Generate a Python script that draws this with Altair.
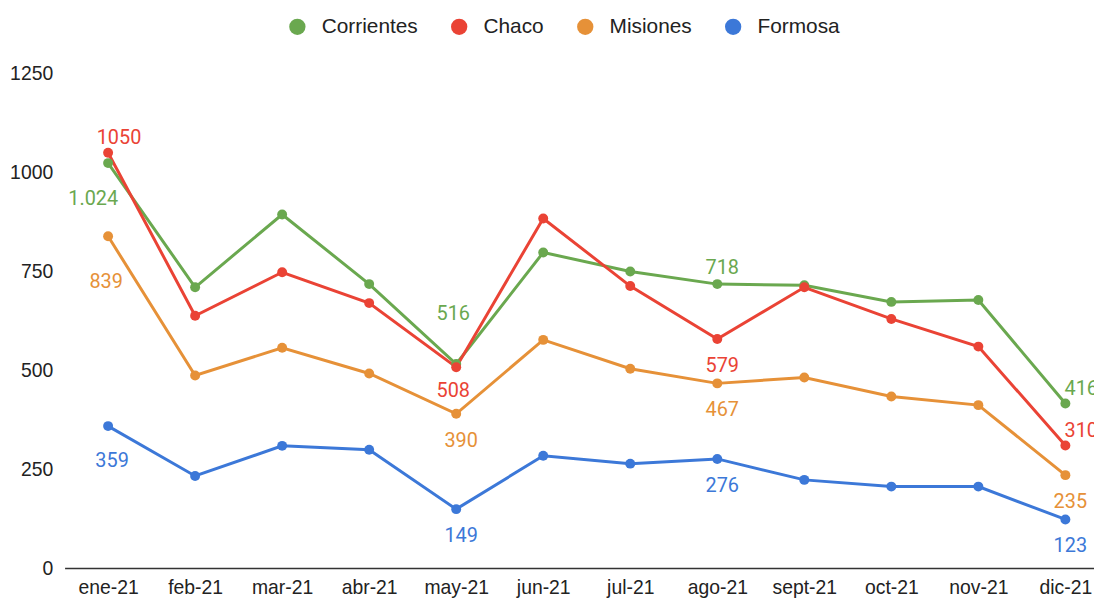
import altair as alt
import pandas as pd

months = ["ene-21", "feb-21", "mar-21", "abr-21", "may-21", "jun-21",
          "jul-21", "ago-21", "sept-21", "oct-21", "nov-21", "dic-21"]
series = ["Corrientes", "Chaco", "Misiones", "Formosa"]
colors = ["#6aa84f", "#ea4335", "#e69138", "#3c78d8"]

corrientes = [1024, 710, 894, 718, 516, 798, 750, 718, 715, 673, 678, 416]
chaco = [1050, 638, 748, 670, 508, 884, 713, 579, 710, 630, 560, 310]
misiones = [839, 487, 557, 492, 390, 577, 504, 467, 482, 434, 412, 235]
formosa = [359, 233, 309, 299, 149, 284, 264, 276, 223, 206, 206, 123]

y_ticks = [0, 250, 500, 750, 1000, 1250]

# data labels shown on the chart
label_series = ["Chaco", "Corrientes", "Misiones", "Formosa",
                "Corrientes", "Chaco", "Misiones", "Formosa",
                "Corrientes", "Chaco", "Misiones", "Formosa",
                "Corrientes", "Chaco", "Misiones", "Formosa"]
label_month = ["ene-21"] * 4 + ["may-21"] * 4 + ["ago-21"] * 4 + ["dic-21"] * 4
label_text = ["1050", "1.024", "839", "359",
              "516", "508", "390", "149",
              "718", "579", "467", "276",
              "416", "310", "235", "123"]
label_place = ["above_r", "below_l", "below_far", "below_mid",
               "above_far", "below_near", "below", "below",
               "above", "below", "below", "below",
               "above_rr", "above_rr", "below", "below"]

# placement styles (pixel offsets of label from its point)
placements = {
    "above": (5, -16),
    "above_r": (11, -15),
    "above_rr": (16, -15),
    "above_far": (-3, -50),
    "below": (5, 27),
    "below_near": (-3, 24),
    "below_l": (-15, 36),
    "below_far": (-2, 46),
    "below_mid": (4, 35),
}

rows = []
for s, vals in zip(series, [corrientes, chaco, misiones, formosa]):
    for m, v in zip(months, vals):
        rows.append({"serie": s, "mes": m, "valor": v})
df = pd.DataFrame(rows)

lab = pd.DataFrame({"serie": label_series, "mes": label_month,
                    "texto": label_text, "lugar": label_place})
lab = lab.merge(df, on=["serie", "mes"], how="left")

FONT = "Roboto"
AXFONT = "Liberation Sans"

x_enc = alt.X(
    "mes:N", sort=months,
    scale=alt.Scale(type="point", padding=0.5, range=[0, 1052], round=False),
    axis=alt.Axis(title=None, labelAngle=0, labelFontSize=19.5, labelColor="#222222",
                  labelFont=AXFONT, domainColor="#333333", domainWidth=1.5,
                  ticks=False, labelPadding=11, grid=False),
)
y_enc = alt.Y(
    "valor:Q",
    scale=alt.Scale(domain=[0, 1250], nice=False, zero=True),
    axis=alt.Axis(values=y_ticks, format="d", title=None, grid=False, domain=False,
                  ticks=False, labelPadding=12, labelFontSize=19.5,
                  labelColor="#222222", labelFont=AXFONT),
)
color_scale = alt.Scale(domain=series, range=colors)

layers = []
for s in series:
    layers.append(
        alt.Chart(df[df["serie"] == s]).mark_line(strokeWidth=3).encode(
            x=x_enc, y=y_enc,
            color=alt.Color("serie:N", scale=color_scale, legend=None),
        )
    )

points = alt.Chart(df).mark_circle(size=100, opacity=1).encode(
    x=x_enc, y=y_enc,
    color=alt.Color(
        "serie:N", scale=color_scale, sort=series,
        legend=alt.Legend(
            title=None, orient="none", direction="horizontal",
            legendX=224, legendY=-58,
            symbolType="circle", symbolSize=270, symbolStrokeWidth=0,
            labelFontSize=21, labelColor="#222222", labelFont=AXFONT,
            labelOffset=14, columnPadding=31,
        ),
    ),
)
layers.append(points)

for name, (dx, dy) in placements.items():
    sub = lab[lab["lugar"] == name]
    layers.append(
        alt.Chart(sub).mark_text(dx=dx, dy=dy, fontSize=20, font=FONT,
                                 align="center", baseline="middle").encode(
            x=x_enc, y=y_enc, text="texto:N",
            color=alt.Color("serie:N", scale=color_scale, legend=None),
        )
    )

chart = alt.layer(*layers).resolve_legend(color="independent").properties(
    width=1037, height=498,
    autosize=alt.AutoSizeParams(type="none"),
    padding={"left": 57, "top": 64, "right": 0, "bottom": 34},
    background="white",
).configure_view(stroke=None)

chart.save("out.html", embed_options={"renderer": "svg", "actions": False})
